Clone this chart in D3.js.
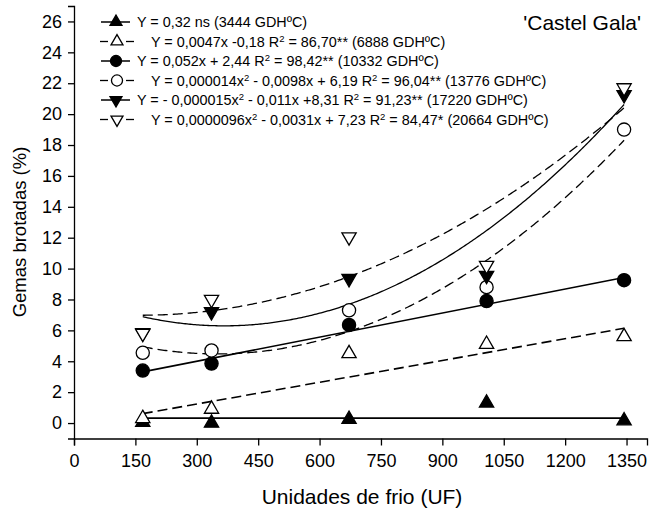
<!DOCTYPE html>
<html>
<head>
<meta charset="utf-8">
<script src="https://cdn.jsdelivr.net/npm/d3@7"></script>
<style>
  body { margin: 0; background: #fff; }
  text { font-family: "Liberation Sans", Arial, sans-serif; fill: #000; }
</style>
</head>
<body>
<svg id="chart" width="650" height="511"></svg>
<script>
// chill units (x) at which bud break was measured
var uf = [168, 336, 672, 1008, 1344];

// sprouted buds (%) per heat treatment (GDHºC)
var gdh3444 = [0.05, 0.0, 0.25, 1.3, 0.15];
var gdh6888 = [0.3, 0.9, 4.5, 5.1, 5.6];
var gdh10332 = [3.4, 3.85, 6.35, 7.9, 9.25];
var gdh13776 = [4.55, 4.7, 7.3, 8.8, 19.0];
var gdh17220 = [5.85, 7.2, 9.35, 9.55, 21.25];
var gdh20664 = [5.8, 8.0, 12.05, 10.2, 21.7];

// fitted curves as drawn: [c0, c1, c2] -> c0 + c1*x + c2*x^2
var fit3444 = [0.32, 0, 0];
var fit6888 = [-0.18, 0.0047, 0];
var fit10332 = [2.44, 0.0052, 0];
var fit13776 = [6.19, -0.0098, 0.000014];
var fit17220 = [8.31, -0.011, 0.000015];
var fit20664 = [7.23, -0.0031, 0.0000096];

var legendLabels = [
  'Y = 0,32 ns (3444 GDHºC)',
  'Y = 0,0047x -0,18 R² = 86,70** (6888 GDHºC)',
  'Y = 0,052x + 2,44 R² = 98,42** (10332 GDHºC)',
  'Y = 0,000014x² - 0,0098x + 6,19 R² = 96,04** (13776 GDHºC)',
  'Y = - 0,000015x² - 0,011x +8,31 R² = 91,23** (17220 GDHºC)',
  'Y = 0,0000096x² - 0,0031x + 7,23 R² = 84,47* (20664 GDHºC)'
];

var xTicks = d3.range(0, 1351, 150);
var yTicks = d3.range(0, 27, 2);

var series = [
  { values: gdh3444, fit: fit3444, shape: 'up', filled: true, dashed: false },
  { values: gdh6888, fit: fit6888, shape: 'up', filled: false, dashed: true },
  { values: gdh10332, fit: fit10332, shape: 'circle', filled: true, dashed: false },
  { values: gdh13776, fit: fit13776, shape: 'circle', filled: false, dashed: true },
  { values: gdh17220, fit: fit17220, shape: 'down', filled: true, dashed: false },
  { values: gdh20664, fit: fit20664, shape: 'down', filled: false, dashed: true }
];

var svg = d3.select('#chart');

var x = d3.scaleLinear().domain([0, 1400]).range([74, 647]);
var y = d3.scaleLinear().domain([-1, 27]).range([438.5, 6]);

// axes
var xAxis = svg.append('g')
  .attr('transform', 'translate(0,' + y(-1) + ')')
  .call(d3.axisBottom(x).tickValues(xTicks).tickFormat(d3.format('d'))
    .tickSizeOuter(0).tickSize(7).tickPadding(9));
var yAxis = svg.append('g')
  .attr('transform', 'translate(' + x(0) + ',0)')
  .call(d3.axisLeft(y).tickValues(yTicks).tickFormat(d3.format('d'))
    .tickSizeOuter(0).tickSize(6).tickPadding(6));

[xAxis, yAxis].forEach(function(g) {
  g.select('.domain').attr('stroke', '#000').attr('stroke-width', 1.3);
  g.selectAll('.tick line').attr('stroke', '#000').attr('stroke-width', 1.3);
  g.selectAll('.tick text')
    .style('font-family', '"Liberation Sans", Arial, sans-serif')
    .style('font-size', '18px')
    .attr('fill', '#000');
});

svg.append('text')
  .attr('x', 362)
  .attr('y', 504)
  .attr('text-anchor', 'middle')
  .style('font-size', '21px')
  .text('Unidades de frio (UF)');

svg.append('text')
  .attr('transform', 'translate(26,232) rotate(-90)')
  .attr('text-anchor', 'middle')
  .style('font-size', '18.5px')
  .text('Gemas brotadas (%)');

svg.append('text')
  .attr('x', 641)
  .attr('y', 30)
  .attr('text-anchor', 'end')
  .style('font-size', '21px')
  .text('\'Castel Gala\'');

function poly(c, v) {
  return c[0] + c[1] * v + c[2] * v * v;
}

function symbolPath(shape, size) {
  if (shape === 'circle') {
    return d3.symbol().type(d3.symbolCircle).size(size)();
  }
  return d3.symbol().type(d3.symbolTriangle).size(size)();
}

function drawMarker(g, s, cx, cy, size) {
  g.append('path')
    .attr('d', symbolPath(s.shape, s.shape === 'circle' ? size * 1.55 : size))
    .attr('transform', 'translate(' + cx + ',' + cy + ')' + (s.shape === 'down' ? ' rotate(180)' : ''))
    .attr('fill', s.filled ? '#000' : '#fff')
    .attr('stroke', '#000')
    .attr('stroke-width', 1.3);
}

// fitted lines / curves
var line = d3.line()
  .x(function(d) { return x(d); });

series.forEach(function(s) {
  var xs = s.fit[2] === 0 ? [uf[0], uf[uf.length - 1]] : d3.range(uf[0], uf[uf.length - 1] + 1, 4);
  svg.append('path')
    .datum(xs)
    .attr('d', line.y(function(d) { return y(poly(s.fit, d)); }))
    .attr('fill', 'none')
    .attr('stroke', '#000')
    .attr('stroke-width', s.fit[2] === 0 ? 1.6 : 1.3)
    .attr('stroke-dasharray', s.dashed ? '10,5' : null);
});

// data markers
var marks = svg.append('g');
series.forEach(function(s) {
  s.values.forEach(function(v, i) {
    drawMarker(marks, s, x(uf[i]), y(v), 88);
  });
});

// legend
var legend = svg.append('g');
series.forEach(function(s, i) {
  var ly = 22 + i * 19.5;
  var row = legend.append('g');
  if (s.dashed) {
    row.append('line').attr('x1', 100).attr('x2', 108).attr('y1', ly).attr('y2', ly)
      .attr('stroke', '#000').attr('stroke-width', 1.3);
    row.append('line').attr('x1', 126).attr('x2', 134).attr('y1', ly).attr('y2', ly)
      .attr('stroke', '#000').attr('stroke-width', 1.3);
    drawMarker(row, s, 117, ly, 62);
  } else {
    row.append('line').attr('x1', 101).attr('x2', 130).attr('y1', ly).attr('y2', ly)
      .attr('stroke', '#000').attr('stroke-width', 1.5);
    drawMarker(row, s, 116, ly, 62);
  }
  var t = row.append('text')
    .attr('x', s.dashed ? 151 : 137)
    .attr('y', ly + 5)
    .style('font-size', '14.4px');
  var parts = legendLabels[i].split('²');
  parts.forEach(function(p, j) {
    var span = t.append('tspan').text(p);
    if (j > 0) span.attr('dy', 5);
    if (j < parts.length - 1) {
      t.append('tspan').attr('dy', -5).style('font-size', '9.5px').text('2');
    }
  });
});
</script>
</body>
</html>
